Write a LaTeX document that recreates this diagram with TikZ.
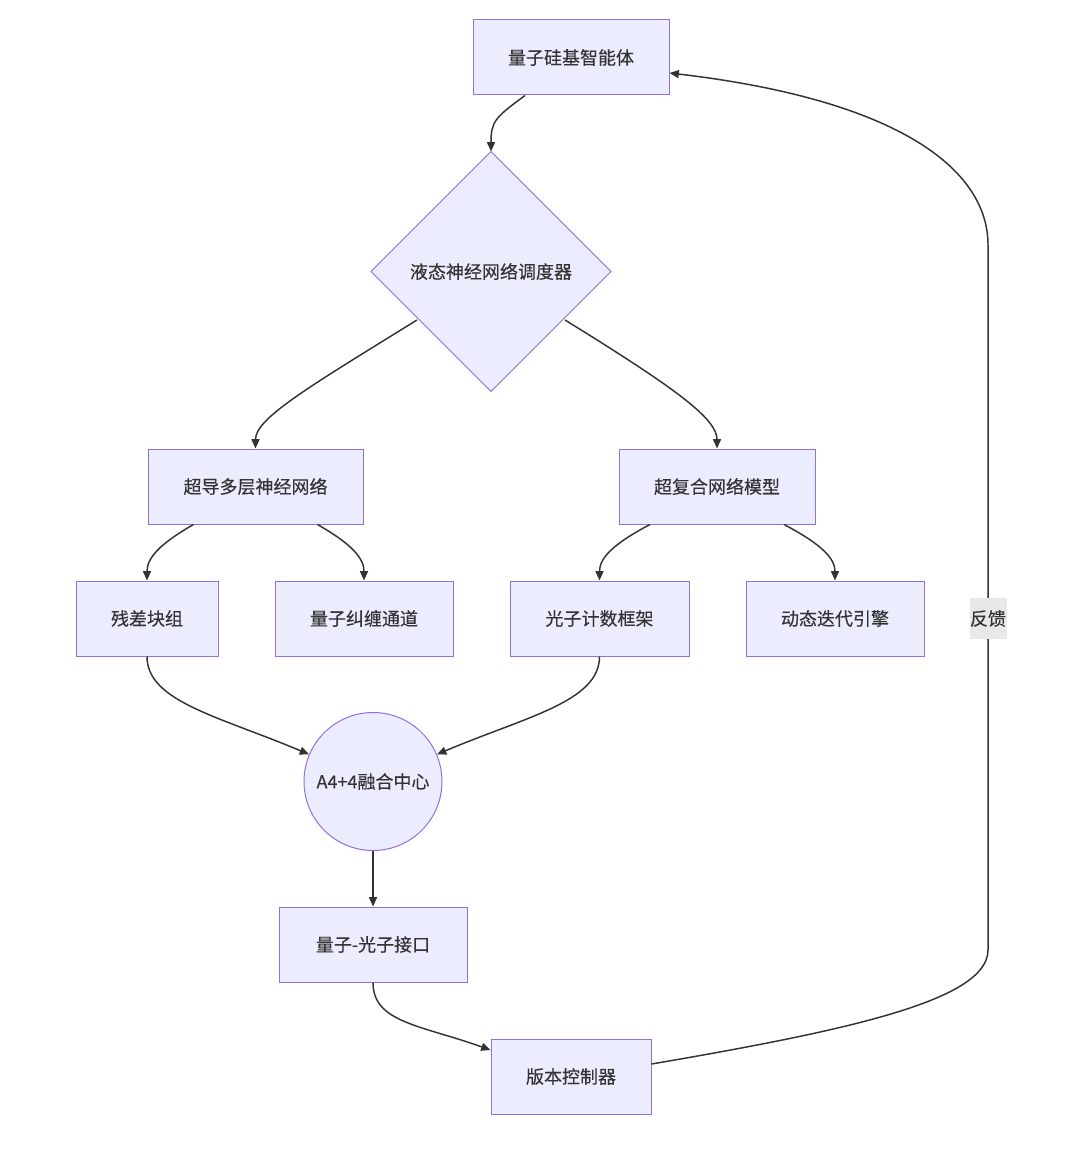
\documentclass[tikz,border=0pt]{standalone}
\usepackage{fontspec}
\setmainfont{Noto Sans CJK SC}[FakeBold=0.25]
\usetikzlibrary{shapes.geometric,arrows.meta,calc}
\definecolor{nodefill}{HTML}{ECECFF}
\definecolor{nodeline}{HTML}{9370DB}
\definecolor{edgeline}{HTML}{333333}
\definecolor{txt}{HTML}{333333}
\definecolor{lblfill}{HTML}{E8E8E8}
\begin{document}
\begin{tikzpicture}[x=0.75pt,y=-0.75pt,
  font=\fontsize{13.5}{16}\selectfont, text=txt,
  box/.style={rectangle,draw=nodeline,fill=nodefill,line width=0.75pt,minimum height=56.25pt,inner sep=0pt},
  dia/.style={diamond,draw=nodeline,fill=nodefill,line width=0.75pt,minimum width=180pt,minimum height=180pt,inner sep=0pt,outer sep=0pt},
  circ/.style={circle,draw=nodeline,fill=nodefill,line width=0.75pt,minimum size=103.5pt,inner sep=0pt},
  edge/.style={draw=edgeline,line width=1.1pt,-{Triangle[length=7pt,width=6pt]}},
  lbl/.style={fill=lblfill,inner sep=0pt,minimum width=27.75pt,minimum height=30.75pt}
]
\useasboundingbox (0,0) rectangle (1080,1155);
\node[box,minimum width=147pt] (n1) at (571,57.5) {量子硅基智能体};
\node[dia] (dia) at (491,271.5) {液态神经网络调度器};
\node[box,minimum width=161.25pt] (n3) at (255.5,486.5) {超导多层神经网络};
\node[box,minimum width=147pt] (n4) at (717,486.5) {超复合网络模型};
\node[box,minimum width=106.5pt] (n5) at (147,618.5) {残差块组};
\node[box,minimum width=133.5pt] (n6) at (364,618.5) {量子纠缠通道};
\node[box,minimum width=134.25pt] (n7) at (599.5,618.5) {光子计数框架};
\node[box,minimum width=133.5pt] (n8) at (835,618.5) {动态迭代引擎};
\node[circ] (c) at (373,781.5) {A4+4融合中心};
\node[box,minimum width=141pt] (n9) at (373,944.5) {量子-光子接口};
\node[box,minimum width=120pt] (n10) at (571,1076.5) {版本控制器};

\coordinate (s1) at ($(n1.south)+(-46,0)$);
\coordinate (sdl) at ($(dia.center)+(-74,48.5)$);
\coordinate (sdr) at ($(dia.center)+(74,48.5)$);
\coordinate (s3l) at ($(n3.south)+(-62,0)$);
\coordinate (s3r) at ($(n3.south)+(62,0)$);
\coordinate (s4l) at ($(n4.south)+(-67,0)$);
\coordinate (s4r) at ($(n4.south)+(67,0)$);
\coordinate (e10) at ($(n10.west)+(0,-26.5)$);
\coordinate (s10) at ($(n10.east)+(0,-12.5)$);
\coordinate (e1) at ($(n1.east)+(0,15.5)$);
\coordinate (fbl) at (988,950);
\coordinate (fbu) at (988,245);

\draw[edge] (s1) .. controls ($(s1)+(-30,22)$) and ($(dia.north)+(0,-30)$) .. (dia.north);
\draw[edge] (sdl) .. controls ($(sdl)+(-110,68)$) and ($(n3.north)+(0,-30)$) .. (n3.north);
\draw[edge] (sdr) .. controls ($(sdr)+(110,68)$) and ($(n4.north)+(0,-30)$) .. (n4.north);
\draw[edge] (s3l) .. controls ($(s3l)+(-35,20)$) and ($(n5.north)+(0,-22)$) .. (n5.north);
\draw[edge] (s3r) .. controls ($(s3r)+(35,20)$) and ($(n6.north)+(0,-22)$) .. (n6.north);
\draw[edge] (s4l) .. controls ($(s4l)+(-38,20)$) and ($(n7.north)+(0,-22)$) .. (n7.north);
\draw[edge] (s4r) .. controls ($(s4r)+(38,20)$) and ($(n8.north)+(0,-22)$) .. (n8.north);
\draw[edge] (n5.south) .. controls ($(n5.south)+(0,45)$) and ($(c.157)+(-90,-38)$) .. (c.157);
\draw[edge] (n7.south) .. controls ($(n7.south)+(0,45)$) and ($(c.23)+(90,-38)$) .. (c.23);
\draw[edge] (c.south) -- (n9.north);
\draw[edge] (n9.south) .. controls ($(n9.south)+(0,40)$) and ($(e10)+(-70,-25)$) .. (e10);
\draw[edge] (s10) .. controls (850,1030) and (988,1000) .. (fbl) -- (fbu) .. controls (988,170) and (900,100) .. (e1);
\node[lbl] (fb) at (988,618.5) {反馈};
\end{tikzpicture}
\end{document}
